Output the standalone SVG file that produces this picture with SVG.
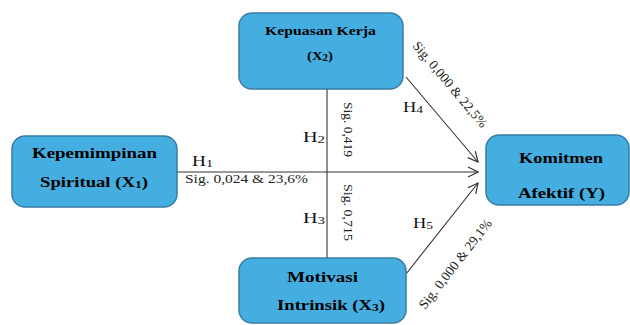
<svg xmlns="http://www.w3.org/2000/svg" width="630" height="325" viewBox="0 0 630 325">
<defs>
<marker id="arr" viewBox="0 0 12 12" refX="11" refY="6" markerWidth="12" markerHeight="12" markerUnits="userSpaceOnUse" orient="auto">
<path d="M1,1 L11,6 L1,11" fill="none" stroke="#333" stroke-width="1.2"/>
</marker>
</defs>
<style>
.box{fill:#44aee0;stroke:#3a7ca3;stroke-width:1.5}
.lbl{font-family:"Liberation Serif",serif;font-weight:bold;fill:#000;text-anchor:middle}
.h{font-family:"Liberation Serif",serif;font-size:15px;fill:#111}
.sig{font-family:"Liberation Serif",serif;font-size:13.5px;fill:#222}
.ln{stroke:#333;stroke-width:1.1;fill:none}
</style>
<rect width="630" height="325" fill="#fff"/>
<g id="connectors">
<line class="ln" x1="327" y1="89" x2="327" y2="258"/>
<line class="ln" x1="177" y1="172" x2="478" y2="172" marker-end="url(#arr)"/>
<line class="ln" x1="406" y1="77" x2="478" y2="162" marker-end="url(#arr)"/>
<line class="ln" x1="406" y1="274" x2="478" y2="183" marker-end="url(#arr)"/>
<text class="h" x="192" y="166" textLength="21" lengthAdjust="spacingAndGlyphs">H<tspan font-size="11" dy="1">1</tspan></text>
<text class="sig" x="185" y="183" textLength="123" lengthAdjust="spacingAndGlyphs">Sig. 0,024 &amp; 23,6%</text>
<text class="h" x="303" y="142" textLength="22" lengthAdjust="spacingAndGlyphs">H<tspan font-size="11" dy="1">2</tspan></text>
<text class="h" x="303" y="223" textLength="22" lengthAdjust="spacingAndGlyphs">H<tspan font-size="11" dy="1">3</tspan></text>
<text class="h" x="403" y="112" textLength="20" lengthAdjust="spacingAndGlyphs">H<tspan font-size="11" dy="1">4</tspan></text>
<text class="h" x="413" y="228" textLength="20" lengthAdjust="spacingAndGlyphs">H<tspan font-size="11" dy="1">5</tspan></text>
<text class="sig" transform="translate(344,102) rotate(90)" textLength="55" lengthAdjust="spacingAndGlyphs">Sig. 0,419</text>
<text class="sig" transform="translate(344,184) rotate(90)" textLength="57" lengthAdjust="spacingAndGlyphs">Sig. 0,715</text>
<text class="sig" transform="translate(412,46) rotate(50)" textLength="108" lengthAdjust="spacingAndGlyphs">Sig. 0,000 &amp; 22,5%</text>
<text class="sig" transform="translate(425,310) rotate(-52)" textLength="110" lengthAdjust="spacingAndGlyphs">Sig. 0,000 &amp; 29,1%</text>
</g>
<g id="X2">
<rect class="box" x="239" y="13" width="164" height="76" rx="13"/>
<text class="lbl" x="320.5" y="35" font-size="13" textLength="111" lengthAdjust="spacingAndGlyphs">Kepuasan Kerja</text>
<text class="lbl" x="320" y="60" font-size="13" textLength="26" lengthAdjust="spacingAndGlyphs">(X<tspan font-size="9.5" dy="1">2</tspan><tspan dy="-1">)</tspan></text>
</g>
<g id="X1">
<rect class="box" x="12" y="136" width="165" height="71" rx="13"/>
<text class="lbl" x="94.5" y="158" font-size="15" textLength="125" lengthAdjust="spacingAndGlyphs">Kepemimpinan</text>
<text class="lbl" x="94" y="187" font-size="15" textLength="108" lengthAdjust="spacingAndGlyphs">Spiritual (X<tspan font-size="11" dy="1">1</tspan><tspan dy="-1">)</tspan></text>
</g>
<g id="X3">
<rect class="box" x="239" y="258" width="167" height="65" rx="13"/>
<text class="lbl" x="322.5" y="282" font-size="15" textLength="71" lengthAdjust="spacingAndGlyphs">Motivasi</text>
<text class="lbl" x="331" y="310" font-size="15" textLength="108" lengthAdjust="spacingAndGlyphs">Intrinsik (X<tspan font-size="11" dy="1">3</tspan><tspan dy="-1">)</tspan></text>
</g>
<g id="Y">
<rect class="box" x="486" y="135" width="143" height="70" rx="13"/>
<text class="lbl" x="561" y="163" font-size="15" textLength="84" lengthAdjust="spacingAndGlyphs">Komitmen</text>
<text class="lbl" x="561.5" y="198" font-size="15" textLength="87" lengthAdjust="spacingAndGlyphs">Afektif (Y)</text>
</g>
</svg>
